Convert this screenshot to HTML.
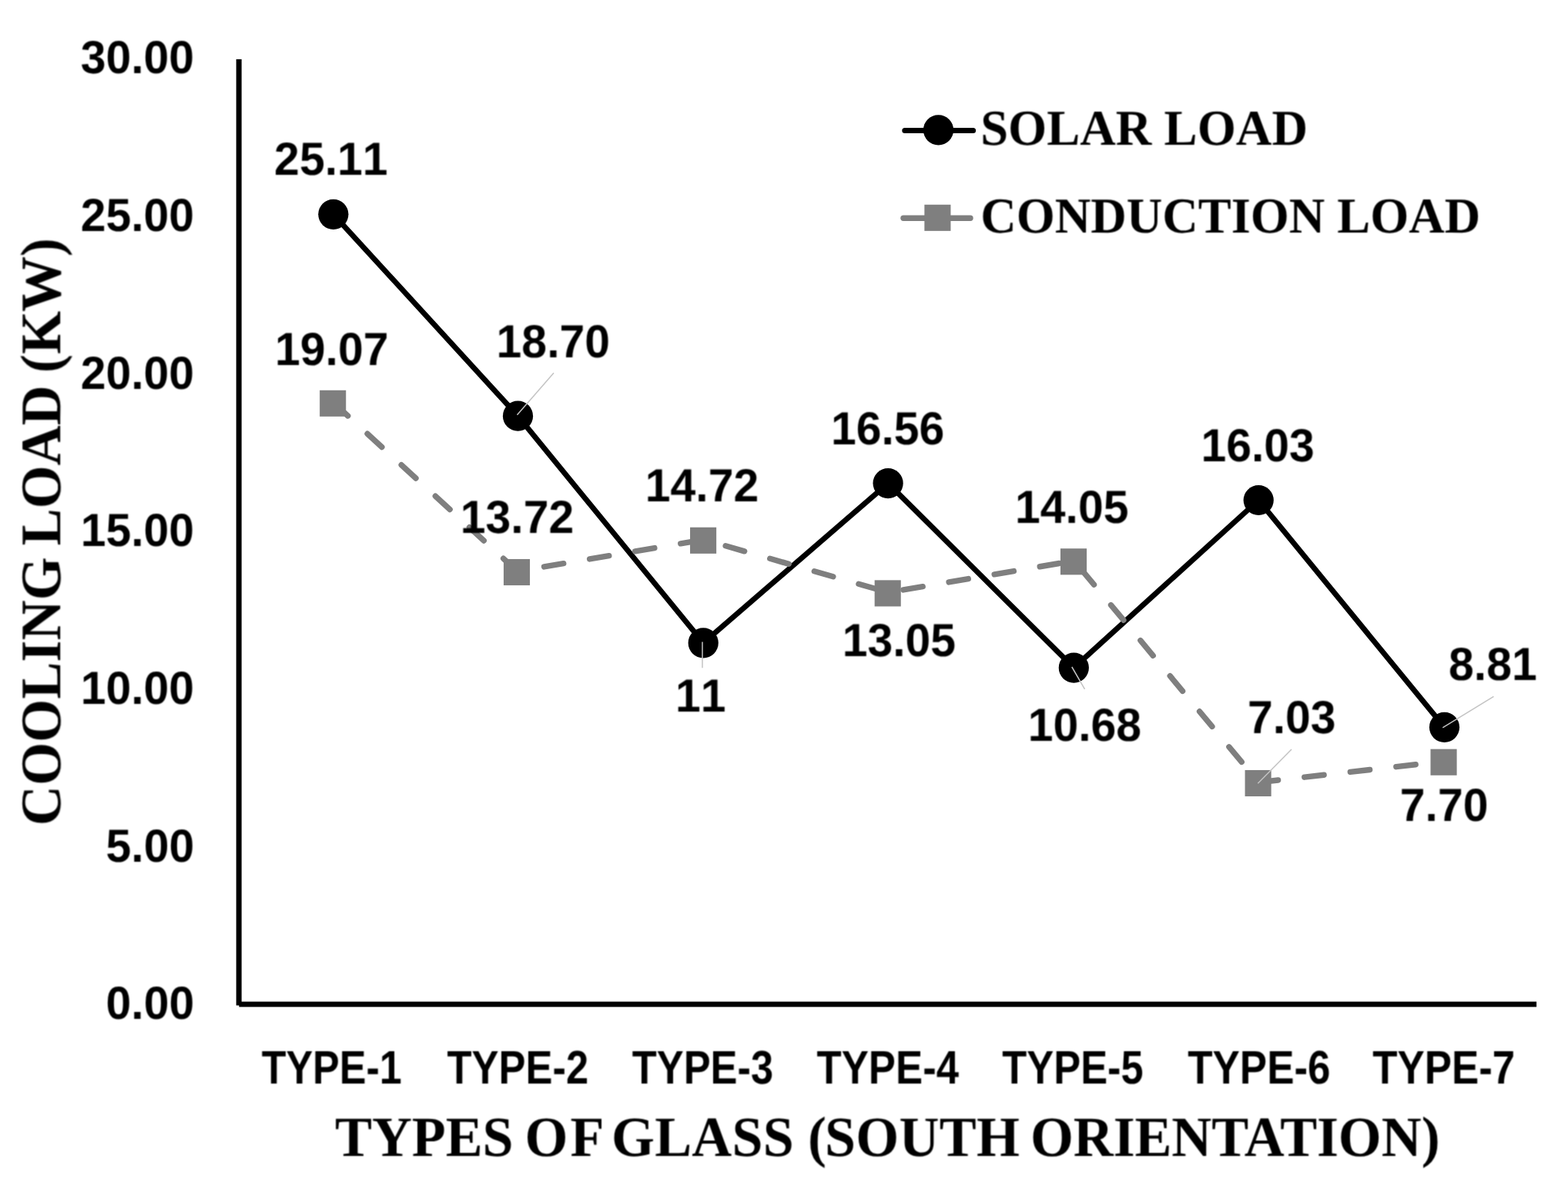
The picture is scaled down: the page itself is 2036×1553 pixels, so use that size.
<!DOCTYPE html>
<html lang="en">
<head>
<meta charset="utf-8">
<title>Cooling load by type of glass (south orientation)</title>
<style>
html, body { margin: 0; padding: 0; background: #ffffff; }
body { width: 2036px; height: 1553px; overflow: hidden; }
svg { display: block; }
text { font-weight: 700; fill: #000000; text-rendering: geometricPrecision; }
.sans { font-family: "Liberation Sans", sans-serif; font-kerning: none; }
.serif { font-family: "Liberation Serif", serif; font-kerning: normal; }
</style>
</head>
<body>
<svg width="2036" height="1553" viewBox="0 0 2036 1553" role="img" aria-label="Line chart of cooling load (kW) by type of glass, south orientation">
<defs>
<filter id="soften" filterUnits="userSpaceOnUse" x="0" y="0" width="2036" height="1553" color-interpolation-filters="sRGB">
<feConvolveMatrix order="3" kernelMatrix="1 2 1 2 4 2 1 2 1" edgeMode="none" preserveAlpha="false"/>
</filter>
</defs>
<rect x="0" y="0" width="2036" height="1553" fill="#ffffff"/>
<g id="plot">
<g id="axes" fill="#000000">
<rect id="y-axis" x="306.70" y="76.90" width="7.00" height="1228.60"/>
<rect id="x-axis" x="310.40" y="1300.60" width="1684.70" height="6.90"/>
</g>
<polyline id="solar-line" points="432.85,278.30 672.50,540.20 913.20,834.80 1153.10,627.60 1394.30,867.10 1634.20,649.50 1875.50,944.30" fill="none" stroke="#000000" stroke-width="7.00" stroke-linecap="round" stroke-linejoin="round"/>
<g id="solar-markers" fill="#000000">
<circle cx="432.85" cy="278.30" r="19.60"/>
<circle cx="672.50" cy="540.20" r="19.60"/>
<circle cx="913.20" cy="834.80" r="19.60"/>
<circle cx="1153.10" cy="627.60" r="19.60"/>
<circle cx="1394.30" cy="867.10" r="19.60"/>
<circle cx="1634.20" cy="649.50" r="19.60"/>
<circle cx="1875.50" cy="944.30" r="19.60"/>
</g>
<polyline id="conduction-line" points="432.90,522.70 671.70,741.90 913.80,700.70 1153.40,769.30 1394.70,728.20 1634.30,1015.90 1875.25,988.60" fill="none" stroke="#7f7f7f" stroke-width="7.40" stroke-dasharray="25.50 34.42" stroke-linecap="round" stroke-linejoin="round"/>
<g id="conduction-markers" fill="#7f7f7f">
<rect x="415.15" y="506.75" width="34.1" height="34.1"/>
<rect x="653.95" y="725.95" width="34.1" height="34.1"/>
<rect x="896.05" y="684.75" width="34.1" height="34.1"/>
<rect x="1135.65" y="753.35" width="34.1" height="34.1"/>
<rect x="1376.95" y="712.25" width="34.1" height="34.1"/>
<rect x="1616.55" y="999.95" width="34.1" height="34.1"/>
<rect x="1857.50" y="972.65" width="34.1" height="34.1"/>
</g>
<g id="leader-lines" stroke="#c3c3c3" stroke-width="1.50" fill="none">
<line x1="671.5" y1="538.8" x2="719.0" y2="484.3"/>
<line x1="912.0" y1="833.5" x2="912.0" y2="867.3"/>
<line x1="1391.8" y1="866.0" x2="1408.5" y2="894.8"/>
<line x1="1633.3" y1="1017.3" x2="1677.0" y2="973.0"/>
<line x1="1873.3" y1="944.8" x2="1939.5" y2="904.3"/>
</g>
</g>
<g id="legend-keys">
<line x1="1174.8" y1="169.4" x2="1263.6" y2="169.4" stroke="#000000" stroke-width="7.00" stroke-linecap="round"/>
<circle cx="1218.5" cy="168.8" r="19.60" fill="#000000"/>
<line x1="1173.0" y1="283.3" x2="1260.0" y2="283.3" stroke="#7f7f7f" stroke-width="7.40" stroke-linecap="round"/>
<rect x="1200.35" y="265.75" width="34.1" height="34.1" fill="#7f7f7f"/>
</g>
<g id="labels" filter="url(#soften)">
<g id="y-axis-labels">
<text class="sans" font-size="60.30" transform="translate(104.65 95.35) scale(0.9770 1)">30.00</text>
<text class="sans" font-size="60.30" transform="translate(104.65 299.88) scale(0.9770 1)">25.00</text>
<text class="sans" font-size="60.30" transform="translate(104.65 504.74) scale(0.9770 1)">20.00</text>
<text class="sans" font-size="60.30" transform="translate(104.65 709.48) scale(0.9770 1)">15.00</text>
<text class="sans" font-size="60.30" transform="translate(104.65 914.34) scale(0.9770 1)">10.00</text>
<text class="sans" font-size="60.30" transform="translate(137.58 1119.08) scale(0.9770 1)">5.00</text>
<text class="sans" font-size="60.30" transform="translate(137.58 1322.94) scale(0.9770 1)">0.00</text>
</g>
<g id="x-axis-labels">
<text class="sans" font-size="61.09" transform="translate(339.67 1406.80) scale(0.8514 1)">TYPE-1</text>
<text class="sans" font-size="61.09" transform="translate(580.57 1406.80) scale(0.8584 1)">TYPE-2</text>
<text class="sans" font-size="61.09" transform="translate(820.73 1406.80) scale(0.8574 1)">TYPE-3</text>
<text class="sans" font-size="61.09" transform="translate(1060.55 1406.80) scale(0.8626 1)">TYPE-4</text>
<text class="sans" font-size="61.09" transform="translate(1301.25 1406.80) scale(0.8578 1)">TYPE-5</text>
<text class="sans" font-size="61.09" transform="translate(1542.22 1406.80) scale(0.8664 1)">TYPE-6</text>
<text class="sans" font-size="61.09" transform="translate(1782.28 1406.80) scale(0.8649 1)">TYPE-7</text>
</g>
<g id="data-labels">
<text class="sans" font-size="60.30" transform="translate(356.12 226.96) scale(0.9770 1)">25.11</text>
<text class="sans" font-size="60.30" transform="translate(357.00 473.56) scale(0.9770 1)">19.07</text>
<text class="sans" font-size="60.30" transform="translate(644.60 463.93) scale(0.9770 1)">18.70</text>
<text class="sans" font-size="60.30" transform="translate(597.79 692.17) scale(0.9770 1)">13.72</text>
<text class="sans" font-size="60.30" transform="translate(837.79 651.35) scale(0.9770 1)">14.72</text>
<text class="sans" font-size="60.30" transform="translate(1078.94 576.56) scale(0.9770 1)">16.56</text>
<text class="sans" font-size="60.30" transform="translate(1318.05 678.88) scale(0.9770 1)">14.05</text>
<text class="sans" font-size="60.30" transform="translate(1559.38 598.62) scale(0.9770 1)">16.03</text>
<text class="sans" font-size="60.30" transform="translate(877.01 923.87) scale(0.9770 1)">11</text>
<text class="sans" font-size="60.30" transform="translate(1093.71 851.83) scale(0.9770 1)">13.05</text>
<text class="sans" font-size="60.30" transform="translate(1334.63 961.56) scale(0.9770 1)">10.68</text>
<text class="sans" font-size="60.30" transform="translate(1619.88 951.83) scale(0.9770 1)">7.03</text>
<text class="sans" font-size="60.30" transform="translate(1881.10 882.56) scale(0.9770 1)">8.81</text>
<text class="sans" font-size="60.30" transform="translate(1817.76 1065.59) scale(0.9770 1)">7.70</text>
</g>
<g id="legend-labels">
<text class="serif" font-size="65.21" transform="translate(1273.16 188.40) scale(0.9896 1)">SOLAR LOAD</text>
<text class="serif" font-size="65.21" transform="translate(1273.24 302.00) scale(0.9871 1)">CONDUCTION LOAD</text>
</g>
<g id="axis-titles">
<text class="serif" font-size="73.81" transform="translate(435.05 1501.40) scale(0.9750 1)"><tspan x="0.00" style="letter-spacing:-0.088px">TYPES </tspan><tspan x="252.80" style="letter-spacing:2.962px">OF </tspan><tspan x="368.21" style="letter-spacing:0.177px">GLASS </tspan><tspan x="629.75">(</tspan><tspan x="652.28" style="letter-spacing:0.288px">SOUTH </tspan><tspan x="926.14" style="letter-spacing:-0.150px">ORIENTATION</tspan><tspan x="1446.95">)</tspan></text>
<text class="serif" font-size="74.43" transform="translate(78.20 1072.14) rotate(-90) scale(0.9680 1)"><tspan x="0.00" style="letter-spacing:0.113px">COOLING </tspan><tspan x="375.83" style="letter-spacing:-0.053px">LOAD </tspan><tspan x="607.55">(</tspan><tspan x="632.44" style="letter-spacing:-0.990px">KW</tspan><tspan x="763.44">)</tspan></text>
</g>
</g>
</svg>
</body>
</html>
